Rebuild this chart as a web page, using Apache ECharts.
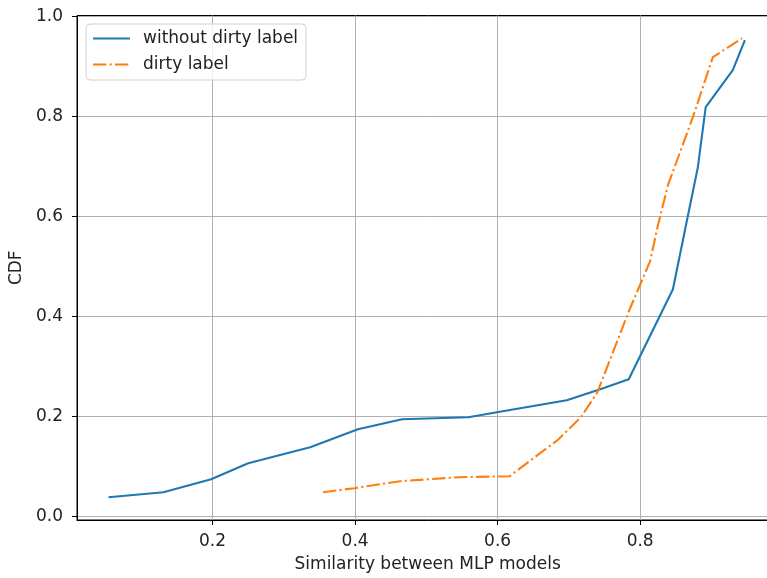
<!DOCTYPE html>
<html><head><meta charset="utf-8">
<script src="https://cdn.jsdelivr.net/npm/echarts@6/dist/echarts.min.js"></script>
<style>html,body{margin:0;padding:0;background:#fff;overflow:hidden;width:767px;height:578px}#c{width:790px;height:578px}</style>
</head><body><div id="c"></div>
<script>
const seriesNames = ['without dirty label', 'dirty label'];
const cleanX = [0.054,0.131,0.198,0.250,0.337,0.404,0.466,0.559,0.599,0.697,0.744,0.784,0.846,0.864,0.881,0.892,0.930,0.947];
const cleanY = [0.039,0.049,0.075,0.107,0.139,0.175,0.195,0.199,0.209,0.233,0.255,0.275,0.455,0.581,0.699,0.819,0.893,0.953];
const dirtyX = [0.355,0.399,0.463,0.545,0.617,0.656,0.684,0.717,0.740,0.783,0.814,0.824,0.839,0.874,0.902,0.943];
const dirtyY = [0.049,0.057,0.071,0.079,0.081,0.123,0.153,0.199,0.249,0.407,0.511,0.577,0.663,0.799,0.919,0.957];
const xTicks = [0.2,0.4,0.6,0.8];
const yTicks = [0.0,0.2,0.4,0.6,0.8,1.0];

const font = 'DejaVu Sans';
const fs = 17;
const chart = echarts.init(document.getElementById('c'), null, {renderer:'canvas'});
const zip = (a,b) => a.map((v,i)=>[v,b[i]]);
const xMin = 0.0098, xMax = 0.994;
chart.setOption({
  animation:false,
  backgroundColor:'#fff',
  textStyle:{fontFamily:font},
  grid:{left:77,right:11.6,top:15.5,bottom:58,containLabel:false,
        show:true,borderColor:'#000',borderWidth:1,backgroundColor:'transparent'},
  legend:{
    left:86, top:24, orient:'vertical',
    itemWidth:37, itemHeight:17, itemGap:9,
    padding:[6,8,7,6],
    backgroundColor:'rgba(255,255,255,0.8)',
    borderColor:'#d0d0d0', borderWidth:1, borderRadius:4,
    itemStyle:{opacity:0},
    textStyle:{fontFamily:font,fontSize:fs,color:'#222',padding:[0,0,0,8]},
    data:seriesNames
  },
  xAxis:{
    type:'value', min:xMin, max:xMax,
    name:'Similarity between MLP models', nameLocation:'middle', nameGap:36,
    nameTextStyle:{fontFamily:font,fontSize:fs,color:'#222'},
    axisLine:{show:true,onZero:false,lineStyle:{color:'#000',width:1}},
    axisTick:{show:true,length:5,lineStyle:{color:'#000'},customValues:xTicks},
    axisLabel:{fontFamily:font,fontSize:fs,color:'#222',margin:13,customValues:xTicks,formatter:v=>v.toFixed(1)},
    splitLine:{show:true,lineStyle:{color:'#b0b0b0',width:1}}
  },
  yAxis:{
    type:'value', min:-0.0066, max:1.0024,
    name:'CDF', nameLocation:'middle', nameGap:43,
    nameTextStyle:{fontFamily:font,fontSize:fs,color:'#222'},
    axisLine:{show:true,onZero:false,lineStyle:{color:'#000',width:1}},
    axisTick:{show:true,length:5,lineStyle:{color:'#000'},customValues:yTicks},
    axisLabel:{fontFamily:font,fontSize:fs,color:'#222',margin:14,customValues:yTicks,formatter:v=>v.toFixed(1)},
    splitLine:{show:true,lineStyle:{color:'#b0b0b0',width:1}}
  },
  series:[
    {name:seriesNames[0],type:'line',data:zip(cleanX,cleanY),showSymbol:false,symbol:'none',
     lineStyle:{color:'#1f77b4',width:2.1},itemStyle:{color:'#1f77b4'}},
    {name:seriesNames[1],type:'line',data:zip(dirtyX,dirtyY),showSymbol:false,symbol:'none',
     lineStyle:{color:'#ff7f0e',width:2.1,type:[13.3,3.3,2.1,3.3]},itemStyle:{color:'#ff7f0e'}}
  ]
});
</script></body></html>
